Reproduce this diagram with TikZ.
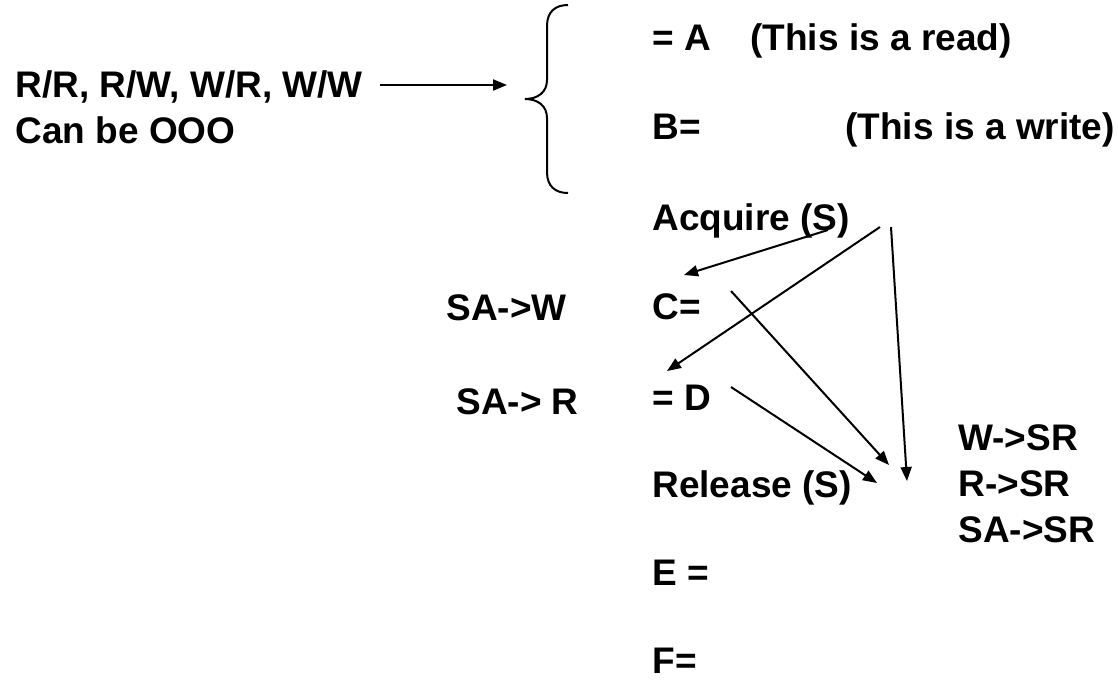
\documentclass[tikz,border=0pt]{standalone}
\usepackage{fontspec}
\setmainfont{Liberation Sans}
\usetikzlibrary{arrows.meta}

\begin{document}
\begin{tikzpicture}[x=0.5pt,y=-0.5pt,
  txt/.style={anchor=base west,inner sep=0pt,font=\bfseries\fontsize{18.5}{22}\selectfont},
  arr/.style={-{Triangle[length=7pt,width=5.5pt]},line width=1pt}
]
\useasboundingbox (0,0) rectangle (1118,682);

% program order, one access per line
\node[txt] (a) at (652,50) {= A};
\node[txt] (rd) at (750,50) {(This is a read)};
\node[txt] (b) at (652,139) {B=};
\node[txt] (wr) at (845,139) {(This is a write)};
\node[txt] (acq) at (652,230) {Acquire (S)};
\node[txt] (c) at (652,319) {C=};
\node[txt] (d) at (652,410) {= D};
\node[txt] (rel) at (652,497) {Release (S)};
\node[txt] (e) at (652,585) {E =};
\node[txt] (f) at (652,673) {F=};

% orderings
\node[txt] (ord) at (15,97) {R/R, R/W, W/R, W/W};
\node[txt] (ooo) at (15,143) {Can be OOO};
\node[txt] (saw) at (446,320) {SA->W};
\node[txt] (sar) at (456,414) {SA-> R};
\node[txt] (wsr) at (958,450) {W->SR};
\node[txt] (rsr) at (958,496) {R->SR};
\node[txt] (sasr) at (958,542) {SA->SR};

% brace round the first two accesses
\draw[line width=1pt] (568,5) .. controls (555,5) and (547,12) .. (547,26) -- (547,80)
  .. controls (547,92) and (538,99) .. (525,99)
  .. controls (538,99) and (547,106) .. (547,118) -- (547,172)
  .. controls (547,186) and (555,193) .. (568,193);

% arrow ends
\coordinate (ordE) at (380,85);
\coordinate (grp) at (507,85);
\coordinate (acqS) at (828,230);
\coordinate (acqR1) at (880,227);
\coordinate (acqR2) at (891,227);
\coordinate (toC) at (684,275);
\coordinate (toD) at (667,371);
\coordinate (cE) at (731,291);
\coordinate (dE) at (731,387);
\coordinate (rel1) at (877,483);
\coordinate (rel2) at (889,465);
\coordinate (rel3) at (907,481);

\draw[arr] (ordE) -- (grp);
\draw[arr] (acqS) -- (toC);
\draw[arr] (acqR1) -- (toD);
\draw[arr] (acqR2) -- (rel3);
\draw[arr] (cE) -- (rel2);
\draw[arr] (dE) -- (rel1);
\end{tikzpicture}
\end{document}
